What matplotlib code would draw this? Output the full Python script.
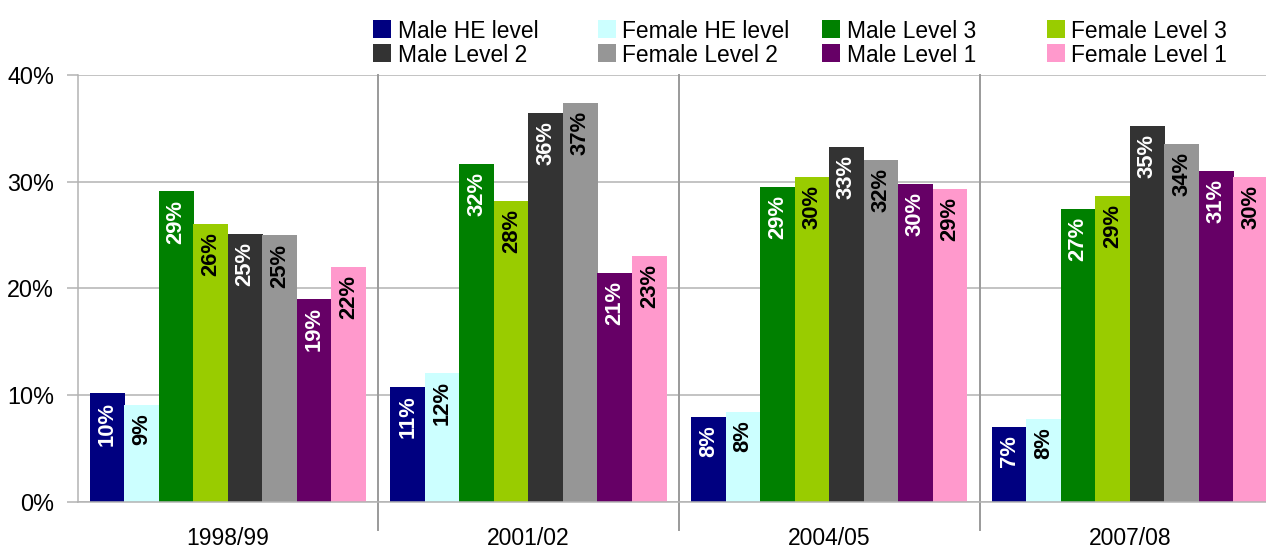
import matplotlib
matplotlib.use("Agg")
import matplotlib.pyplot as plt
from matplotlib.patches import Rectangle
import numpy as np

plt.rcParams['font.family'] = ['Liberation Sans', 'DejaVu Sans']

years = ["1998/99", "2001/02", "2004/05", "2007/08"]
series = ["Male HE level", "Female HE level", "Male Level 3", "Female Level 3",
          "Male Level 2", "Female Level 2", "Male Level 1", "Female Level 1"]
colors = ["#000080", "#ccffff", "#008000", "#99cc00",
          "#333333", "#969696", "#660066", "#ff99cc"]
label_colors = ["white", "black", "white", "black",
                "white", "black", "white", "black"]

male_he = [10.16, 10.73, 7.93, 7.02]
female_he = [9.07, 12.04, 8.45, 7.77]
male_l3 = [29.07, 31.6, 29.45, 27.46]
female_l3 = [26.05, 28.17, 30.45, 28.64]
male_l2 = [25.05, 36.45, 33.26, 35.23]
female_l2 = [24.95, 37.38, 32.01, 33.51]
male_l1 = [19.0, 21.45, 29.77, 30.98]
female_l1 = [22.0, 23.03, 29.33, 30.39]
values = [male_he, female_he, male_l3, female_l3, male_l2, female_l2, male_l1, female_l1]
yticks = [0, 10, 20, 30, 40]

W, H = 1266, 549
fig = plt.figure(figsize=(W / 100, H / 100), dpi=100)
ax_left, ax_right, ax_bottom, ax_top = 77.5, 1280.3, 502, 74.7
ax = fig.add_axes([ax_left / W, (H - ax_bottom) / H,
                   (ax_right - ax_left) / W, (ax_bottom - ax_top) / H])

n = len(series)
bw = 0.1147
centers = np.arange(len(years)) + 0.5
for j in range(n):
    xs = centers + (j - (n - 1) / 2) * bw
    ax.bar(xs, values[j], width=bw * 1.01, color=colors[j], linewidth=0, zorder=3)
    for x, v in zip(xs, values[j]):
        ax.annotate(f"{int(v + 0.5):d}%", xy=(x, v), xytext=(0, -5.8),
                    textcoords="offset points", rotation=90, ha="center", va="top",
                    fontsize=15.8, fontweight="bold", color=label_colors[j], zorder=4)

ax.set_xlim(0, len(years))
ax.set_ylim(0, 40)
ax.set_yticks(yticks)
ax.set_yticklabels([f"{t}%" for t in yticks], fontsize=16.8)
ax.yaxis.grid(True, color="#b3b3b3", linewidth=1.1, zorder=0)
ax.tick_params(axis="y", length=8, width=1.1, color="#b3b3b3", pad=9)
ax.set_xticks(centers)
ax.set_xticklabels(years, fontsize=16.5)
ax.tick_params(axis="x", length=0, pad=18)
for s in ["top", "right"]:
    ax.spines[s].set_visible(False)
ax.spines["left"].set_color("#b3b3b3")
ax.spines["left"].set_linewidth(1.1)
ax.spines["bottom"].set_color("#b3b3b3")
ax.spines["bottom"].set_linewidth(1.1)
ax.spines["bottom"].set_zorder(5)

trans = ax.get_xaxis_transform()
for b in range(1, len(years)):
    ax.plot([b, b], [-(530 - ax_bottom) / (ax_bottom - ax_top), 1.0], transform=trans,
            color="#9a9a9a", linewidth=1.4, clip_on=False, zorder=2)

# legend (4 columns, filled row-wise)
sq = 18
col_x0, col_dx = 373.3, 224.5
row_y = [29.2, 52.6]
for i, name in enumerate(series):
    r, c = divmod(i, 4)
    x = col_x0 + c * col_dx
    yc = row_y[r]
    fig.add_artist(Rectangle((x / W, (H - yc - sq / 2) / H), sq / W, sq / H,
                             transform=fig.transFigure, facecolor=colors[i],
                             edgecolor="none"))
    fig.text((x + 24.5) / W, (H - yc) / H, name, fontsize=16.4,
             ha="left", va="center_baseline")

fig.savefig("out.png", dpi=100)
